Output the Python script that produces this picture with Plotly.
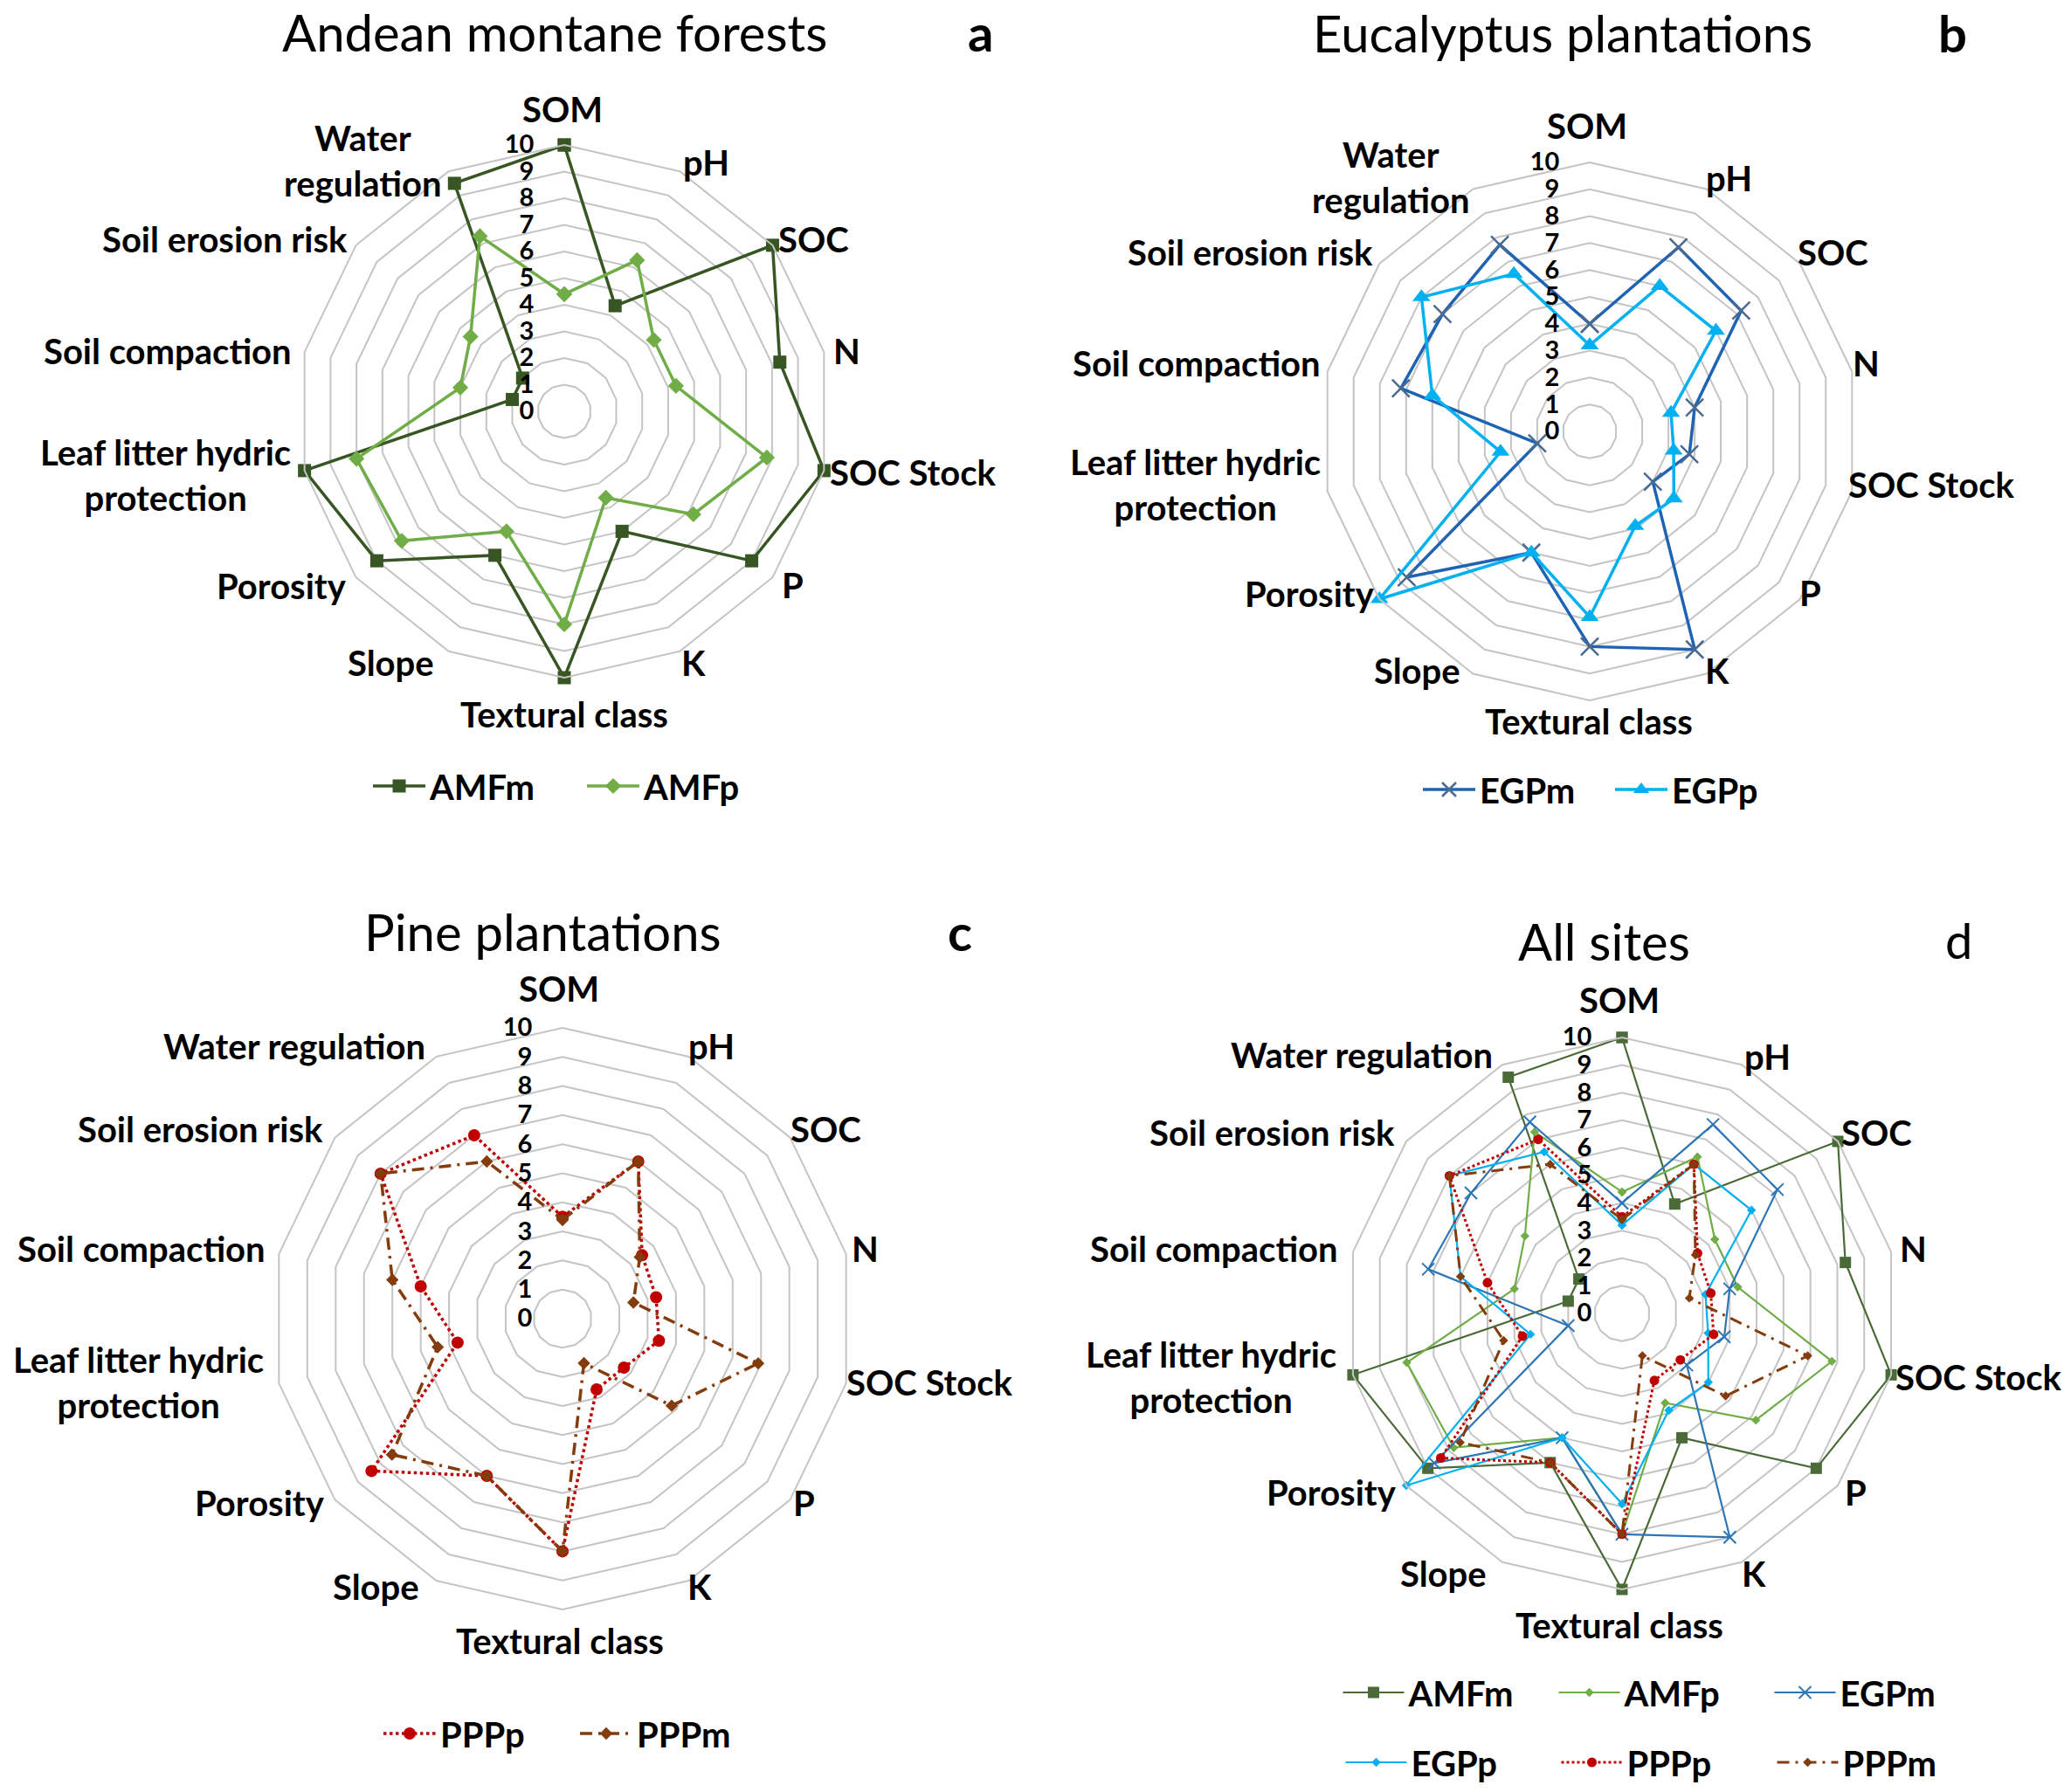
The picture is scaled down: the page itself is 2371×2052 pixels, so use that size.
import plotly.graph_objects as go

# ---------------- data ----------------
categories = ["SOM", "pH", "SOC", "N", "SOC Stock", "P", "K", "Textural class",
              "Slope", "Porosity", "Leaf litter hydric protection",
              "Soil compaction", "Soil erosion risk", "Water regulation"]

labels_ab = ["SOM", "pH", "SOC", "N", "SOC Stock", "P", "K", "Textural class",
             "Slope", "Porosity", "Leaf litter hydric<br>protection",
             "Soil compaction", "Soil erosion risk", "Water<br>regulation"]
labels_cd = ["SOM", "pH", "SOC", "N", "SOC Stock", "P", "K", "Textural class",
             "Slope", "Porosity", "Leaf litter hydric<br>protection",
             "Soil compaction", "Soil erosion risk", "Water regulation"]

AMFm = [10, 4.4, 10, 8.3, 10, 9, 5, 10, 6, 9, 10, 2, 2, 9.5]
AMFp = [4.4, 6.3, 4.3, 4.3, 7.8, 6.2, 3.6, 8, 5, 7.8, 8, 4, 4.5, 7.3]
EGPm = [4, 7.6, 7.2, 4, 3.8, 3, 9, 8, 5, 8.7, 2, 7.2, 7, 7.7]
EGPp = [3.2, 6, 6, 3.1, 3.2, 4, 3.9, 6.9, 5, 10, 3.4, 6, 8, 6.5]
PPPp = [3.5, 6, 3.5, 3.3, 3.4, 2.7, 2.7, 8, 6, 8.4, 3.7, 5, 8, 7]
PPPm = [3.4, 6, 3.4, 2.5, 6.9, 4.8, 1.7, 8, 6, 7.5, 4.4, 6, 8, 6]

radial_ticks = list(range(0, 11))

# ---------------- styling ----------------
W, H = 2371, 2052
FONT = "Lato"
S = 1.512  # reference preview -> full pixel scale
C_AMFm = "#375623"
C_AMFp = "#70AD47"
C_EGPm = "#2E75B6"
C_EGPp = "#00B0F0"
C_PPPp = "#C00000"
C_PPPm = "#843C0C"
GRID = "#c4c4c4"


def closed(vals):
    return list(vals) + [vals[0]]


theta_closed = closed(categories)

fig = go.Figure()


def add(vals, name, subplot, legend, color, width, dash, symbol, msize,
        mline=None):
    marker = dict(symbol=symbol, size=msize, color=color)
    if mline is not None:
        marker["line"] = dict(color=mline[0], width=mline[1])
    fig.add_trace(go.Scatterpolar(
        r=closed(vals), theta=theta_closed, name=name, subplot=subplot,
        legend=legend, mode="lines+markers",
        line=dict(color=color, width=width, dash=dash),
        marker=marker, showlegend=True))


LDASHDOT = "14px,7px,3px,7px"

# panel a
add(AMFm, "AMFm", "polar", "legend", C_AMFm, 3.5, "solid", "square", 15)
add(AMFp, "AMFp", "polar", "legend", C_AMFp, 3.5, "solid", "diamond", 14)
# panel b
add(EGPm, "EGPm", "polar2", "legend2", "#1F64B4", 3.5, "solid", "x-thin", 20,
    mline=("#4a6a90", 2.5))
add(EGPp, "EGPp", "polar2", "legend2", C_EGPp, 3.5, "solid", "triangle-up", 18)
# panel c
add(PPPp, "PPPp", "polar3", "legend3", C_PPPp, 3.5, "dot", "circle", 14)
add(PPPm, "PPPm", "polar3", "legend3", C_PPPm, 3.5, LDASHDOT, "diamond", 11)
# panel d
add(AMFm, "AMFm", "polar4", "legend4", "#4a6b38", 2.2, "solid", "square", 13)
add(AMFp, "AMFp", "polar4", "legend4", C_AMFp, 2.2, "solid", "diamond", 8)
add(EGPm, "EGPm", "polar4", "legend4", C_EGPm, 2.2, "solid", "x-thin", 14,
    mline=(C_EGPm, 2))
add(EGPp, "EGPp", "polar4", "legend5", C_EGPp, 2.2, "solid", "diamond", 8)
add(PPPp, "PPPp", "polar4", "legend5", C_PPPp, 3, "dot", "circle", 11)
add(PPPm, "PPPm", "polar4", "legend5", C_PPPm, 3, LDASHDOT, "diamond", 8)


def polar_cfg(cx, cy, r):
    return dict(
        domain=dict(x=[(cx - r) / W, (cx + r) / W],
                    y=[(H - cy - r) / H, (H - cy + r) / H]),
        bgcolor="white",
        gridshape="linear",
        radialaxis=dict(range=[0, 10], tickmode="array", tickvals=radial_ticks,
                        angle=90, side="counterclockwise", tickangle=90,
                        showline=False, ticks="outside", ticklen=24,
                        tickcolor="rgba(0,0,0,0)",
                        gridcolor=GRID, gridwidth=2,
                        tickfont=dict(family=FONT, size=29, color="black",
                                      weight="bold")),
        angularaxis=dict(rotation=90, direction="clockwise", type="category",
                         categoryorder="array", categoryarray=categories,
                         showticklabels=False, showgrid=False, showline=True,
                         linecolor=GRID, linewidth=2, ticks=""),
    )


def legend_cfg(x, y, entrywidth, itemwidth=60):
    return dict(orientation="h", x=x / W, y=1 - y / H, xanchor="center",
                yanchor="middle", xref="paper", yref="paper",
                itemwidth=itemwidth, entrywidth=entrywidth,
                font=dict(family=FONT, size=40, color="black", weight="bold"),
                bgcolor="rgba(0,0,0,0)", itemclick=False)


annotations = []


def text(x, y, s, size, bold=False, yanchor="middle"):
    annotations.append(dict(x=x / W, y=1 - y / H, xref="paper", yref="paper",
                            text=s, showarrow=False, xanchor="center",
                            yanchor=yanchor, align="center",
                            font=dict(family=FONT, size=size, color="black",
                                      weight="bold" if bold else "normal")))


# category label placement (centres, in reference-preview pixels)
label_pos = {
    "a": [(426, 83), (535, 123), (616, 181), (641, 266), (691, 358),
          (600, 443), (525, 502), (427, 541), (296, 502), (213, 444),
          (125, 360), (127, 266), (170, 181), (275, 122)],
    "b": [(1202, 95), (1309, 135), (1388, 191), (1413, 275), (1462, 367),
          (1371, 449), (1300, 508), (1203, 546), (1073, 508), (992, 450),
          (905, 367), (906, 275), (947, 191), (1053, 134)],
    "c": [(423, 749), (539, 792), (625, 855), (655, 946), (704, 1047),
          (609, 1138), (530, 1202), (424, 1243), (285, 1202), (197, 1138),
          (105, 1047), (107, 946), (152, 855), (223, 792)],
    "d": [(1226, 757), (1338, 800), (1421, 858), (1449, 946), (1498, 1043),
          (1405, 1130), (1328, 1192), (1226, 1231), (1093, 1192), (1008, 1130),
          (917, 1043), (919, 946), (963, 858), (1031, 799)],
}
label_text = {"a": labels_ab, "b": labels_ab, "c": labels_cd, "d": labels_cd}
for key, pos in label_pos.items():
    for (px, py), lab in zip(pos, label_text[key]):
        text(px * S, py * S, lab, 40, True)

text(635, 0, "Andean montane forests", 58, yanchor="top")
text(1122, 0, "a", 58, True, yanchor="top")
text(1789, 1, "Eucalyptus plantations", 58, yanchor="top")
text(2235, 1, "b", 58, True, yanchor="top")
text(621, 1030, "Pine plantations", 58, yanchor="top")
text(1099, 1030, "c", 58, True, yanchor="top")
text(1836, 1041, "All sites", 58, yanchor="top")
text(2242, 1041, "d", 56, yanchor="top")

fig.update_layout(
    width=W, height=H, autosize=False,
    margin=dict(l=0, r=0, t=0, b=0),
    paper_bgcolor="white",
    polar=polar_cfg(646, 471, 305),
    polar2=polar_cfg(1820, 494, 308),
    polar3=polar_cfg(644, 1510, 333),
    polar4=polar_cfg(1857, 1504, 316),
    legend=legend_cfg(667, 900, 170),
    legend2=legend_cfg(1844, 904, 145),
    legend3=legend_cfg(659, 1985, 150),
    legend4=legend_cfg(1903, 1938, 162, 70),
    legend5=legend_cfg(1906, 2018, 162, 70),
    annotations=annotations,
)

fig.write_html("out.html", config={"displayModeBar": False},
               post_script="document.body.style.margin='0';")
